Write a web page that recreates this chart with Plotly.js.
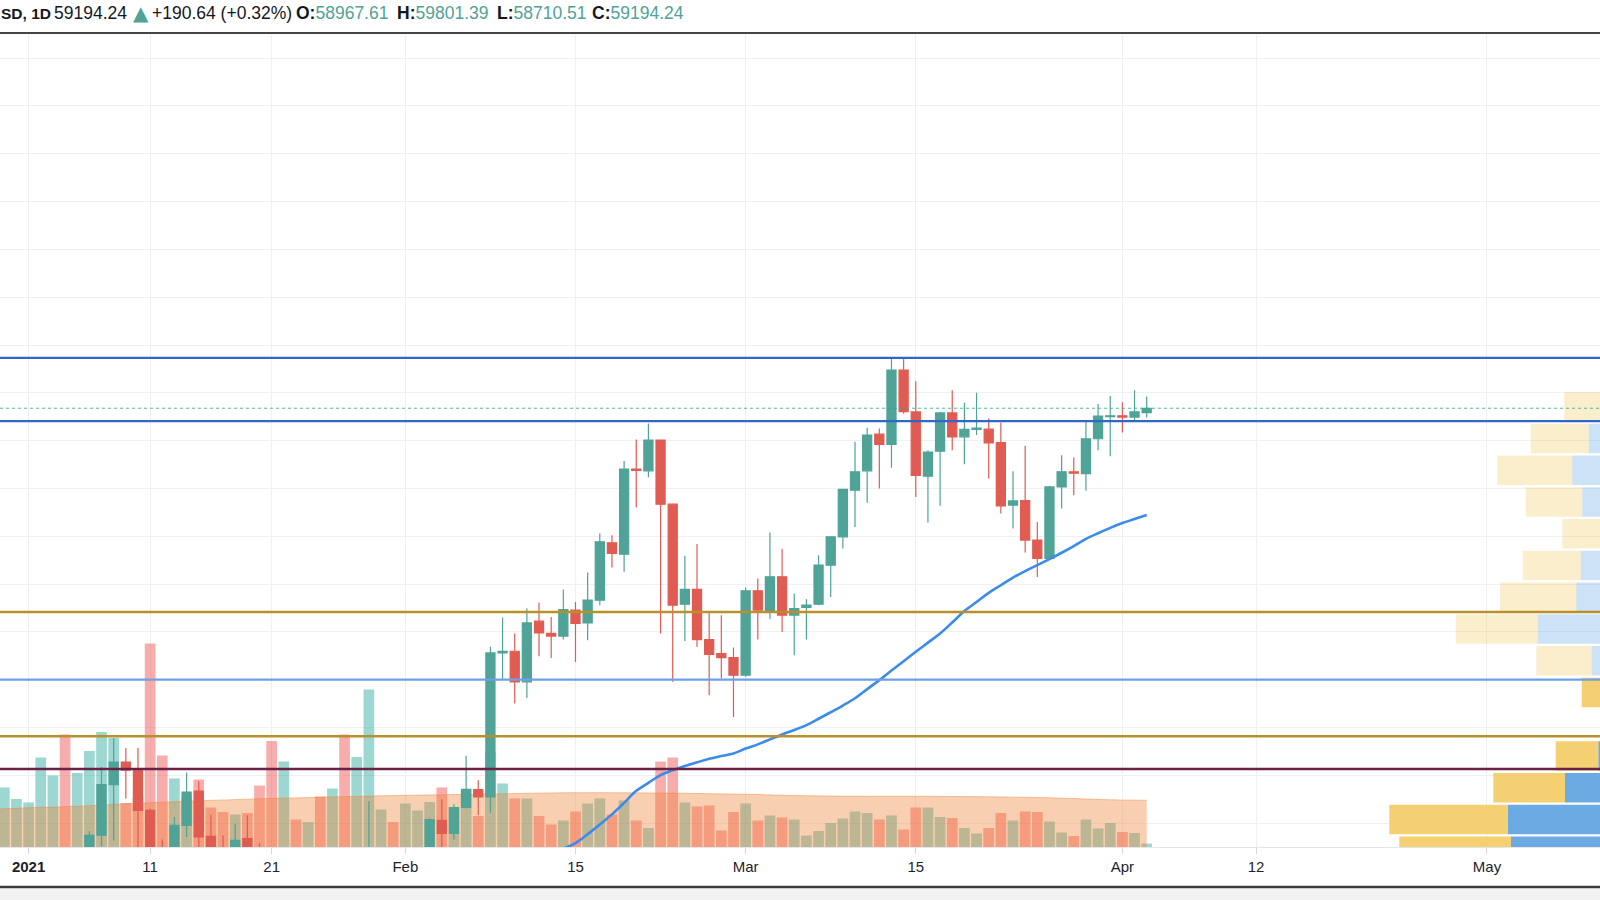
<!DOCTYPE html>
<html>
<head>
<meta charset="utf-8">
<script src="https://cdn.plot.ly/plotly-3.0.1.min.js"></script>
<style>html,body{margin:0;padding:0;background:#fff;}#chart{width:1600px;height:900px;}</style>
</head>
<body>
<div id="chart"></div>
<script>
// ---------- DATA ----------
const dates = [
 '2020-12-30','2020-12-31',
 '2021-01-01','2021-01-02','2021-01-03','2021-01-04','2021-01-05','2021-01-06','2021-01-07','2021-01-08','2021-01-09','2021-01-10',
 '2021-01-11','2021-01-12','2021-01-13','2021-01-14','2021-01-15','2021-01-16','2021-01-17','2021-01-18','2021-01-19','2021-01-20',
 '2021-01-21','2021-01-22','2021-01-23','2021-01-24','2021-01-25','2021-01-26','2021-01-27','2021-01-28','2021-01-29','2021-01-30','2021-01-31',
 '2021-02-01','2021-02-02','2021-02-03','2021-02-04','2021-02-05','2021-02-06','2021-02-07','2021-02-08','2021-02-09','2021-02-10',
 '2021-02-11','2021-02-12','2021-02-13','2021-02-14','2021-02-15','2021-02-16','2021-02-17','2021-02-18','2021-02-19','2021-02-20',
 '2021-02-21','2021-02-22','2021-02-23','2021-02-24','2021-02-25','2021-02-26','2021-02-27','2021-02-28',
 '2021-03-01','2021-03-02','2021-03-03','2021-03-04','2021-03-05','2021-03-06','2021-03-07','2021-03-08','2021-03-09','2021-03-10',
 '2021-03-11','2021-03-12','2021-03-13','2021-03-14','2021-03-15','2021-03-16','2021-03-17','2021-03-18','2021-03-19','2021-03-20',
 '2021-03-21','2021-03-22','2021-03-23','2021-03-24','2021-03-25','2021-03-26','2021-03-27','2021-03-28','2021-03-29','2021-03-30','2021-03-31',
 '2021-04-01','2021-04-02','2021-04-03'
];
const open = [
 27360,28880,
 28980,29370,32200,33000,32000,34000,36870,39520,40700,40270,
 38170,35500,33900,37390,39180,36810,36000,35800,36700,36000,
 35500,30800,33000,32100,32300,32250,32500,30400,33400,34300,34320,
 33100,33500,35500,37650,36960,38320,39260,38870,46400,46490,
 44890,48060,47420,47280,48640,47970,49160,52160,51560,56010,
 55920,57530,54180,48950,49720,47100,46370,46160,
 45240,49650,48550,50380,48380,48780,48950,50990,52470,54910,
 55920,57840,57300,61190,59000,55640,56950,58950,57700,58090,
 58100,57400,54130,54370,52300,51350,55080,55870,55780,57600,58750,
 58800,58730,58967.61
];
const high = [
 28990,29300,
 29600,33300,34800,33600,34500,37080,40440,41950,41430,41450,
 38250,36650,37820,40150,39690,37950,36870,37480,37910,36450,
 35600,33800,33400,32900,34800,32800,32500,33800,38650,34900,34400,
 34700,35900,37750,38750,38490,41020,39740,46720,48250,47420,
 48720,49020,48280,49720,49070,50610,52650,52560,56430,57560,
 58400,57560,54200,51480,52090,48500,48370,46690,
 49820,50290,52700,51830,49510,49210,51510,52500,54980,57440,
 58170,58140,61800,61800,60610,57000,59000,60140,59480,60000,
 58660,58450,55900,57230,53250,55140,56740,56620,58480,59410,59830,
 59510,60140,59801.39
];
const low = [
 27320,28000,
 28800,29000,32000,28100,29900,33300,36300,36600,38790,35100,
 30300,32500,32400,36780,34400,35400,33900,34800,35900,33400,
 30000,28800,31400,30900,31900,30800,29200,29900,31900,32900,32300,
 32300,33400,35400,36200,36640,38270,37910,38050,45030,43760,
 44050,46230,46140,47100,45930,47070,48900,50870,50640,54000,
 55580,47420,44890,47030,46720,44190,45060,43050,
 45150,47100,48170,47500,46280,47100,48900,49330,51860,52990,
 54250,55000,56080,58900,54560,53220,54090,57000,56270,57790,
 55520,53690,52910,51650,50370,51300,53950,54650,54880,57000,56690,
 57930,58570,58710.51
];
const close = [
 28880,28980,
 29370,32200,33000,32000,34000,36870,39520,40700,40270,38170,
 35500,33900,37390,39130,36780,36000,35800,36600,36000,35500,
 30800,33000,32100,32300,32250,32500,30400,33400,34300,34320,33100,
 33500,35500,37690,36960,38320,39260,38870,46400,46490,44890,
 47970,47450,47280,48670,47940,49160,52210,51600,56010,55950,
 57530,54180,48900,49730,47100,46320,46160,45240,
 49650,48640,50380,48380,48720,48900,50990,52470,54950,55870,
 57790,57300,61190,59020,55680,56900,58950,57700,58090,58150,
 57380,54090,54350,52300,51340,55080,55870,55800,57600,58780,58800,
 58730,59003.60,59194.24
];
// volume (thousand BTC)
const volume = [
 11.9,9.6,
 8.9,17.9,14.3,22.5,14.8,19.2,23.0,21.8,8.8,10.0,
 40.7,18.3,13.7,10.0,13.5,7.9,7.0,6.5,6.8,12.3,
 21.2,17.1,5.5,5.0,10.1,11.7,22.5,18.0,31.5,7.5,5.0,
 8.7,7.3,9.0,11.9,7.7,11.7,6.2,19.0,12.7,9.7,
 9.7,6.2,4.5,5.3,7.1,8.7,9.7,6.5,9.3,5.3,
 3.8,17.1,17.9,8.9,8.1,8.3,3.3,7.0,
 8.7,5.3,6.3,5.9,5.5,2.3,3.2,4.8,5.7,7.1,
 6.8,5.5,6.3,3.5,7.9,7.9,6.0,5.8,3.8,2.7,
 3.8,6.8,5.3,7.1,7.0,5.1,2.9,2.2,5.5,3.7,4.8,
 3.0,2.8,0.7
];
// volume moving average (read at these dates)
const volMADates = ['2020-12-29','2020-12-30','2021-01-01','2021-01-05','2021-01-10','2021-01-15','2021-01-20','2021-01-25',
 '2021-01-30','2021-02-04','2021-02-09','2021-02-14','2021-02-19','2021-02-24','2021-03-01','2021-03-06','2021-03-11',
 '2021-03-16','2021-03-21','2021-03-26','2021-03-31','2021-04-03'];
const volMA = [7.54,7.64,7.84,8.14,8.74,9.24,9.64,9.94,10.24,10.44,10.64,10.84,10.84,10.74,10.54,10.24,10.14,10.14,10.04,9.84,9.44,9.34];
// price moving average (blue line)
const maDates = [
 '2021-02-12','2021-02-13','2021-02-14','2021-02-15','2021-02-16','2021-02-17','2021-02-18','2021-02-19','2021-02-20',
 '2021-02-21','2021-02-22','2021-02-23','2021-02-24','2021-02-25','2021-02-26','2021-02-27','2021-02-28',
 '2021-03-01','2021-03-02','2021-03-03','2021-03-04','2021-03-05','2021-03-06','2021-03-07','2021-03-08','2021-03-09','2021-03-10',
 '2021-03-11','2021-03-12','2021-03-13','2021-03-14','2021-03-15','2021-03-16','2021-03-17','2021-03-18','2021-03-19','2021-03-20',
 '2021-03-21','2021-03-22','2021-03-23','2021-03-24','2021-03-25','2021-03-26','2021-03-27','2021-03-28','2021-03-29','2021-03-30','2021-03-31',
 '2021-04-01','2021-04-02','2021-04-03'];
const maValues = [
 35600,35900,36170,36460,36920,37430,37960,38560,39190,
 39610,40010,40270,40490,40680,40870,41010,41140,
 41400,41620,41880,42140,42370,42630,42960,43300,43650,44030,
 44510,44980,45480,45970,46460,46940,47420,47990,48590,49060,
 49540,49940,50340,50680,50990,51310,51640,51990,52360,52660,52940,
 53190,53400,53610];
// horizontal levels drawn on chart
const levels = [61830, 58520, 48546, 45010, 42045, 40335];
// volume profile (price bin centres, up / down volume, value-area flag)
const profilePrice = [60935,59275,57615,55955,54295,52635,50975,49315,47655,45995,44335,42675,41015,39355,37695,36035];
const profileUp    = [8,28,51.3,67.7,57.7,26,59.3,63.7,102.3,48.3,25,10,41.7,75,132.3,129];
const profileDown  = [10,47.7,58,75,56.6,51.7,58,76.3,82,55.4,33.3,15,42.6,71.7,118.4,111.7];
const profileInVA  = [false,false,false,false,false,false,false,false,false,false,true,true,true,true,true,true];
// x-axis ticks
const tickDates = ['2021-01-01','2021-01-11','2021-01-21','2021-02-01','2021-02-15','2021-03-01','2021-03-15','2021-04-01','2021-04-12','2021-05-01'];
const tickText  = ['<b>2021</b>','11','21','Feb','15','Mar','15','Apr','12','May'];

// ---------- DRAW ----------
const UP = '#4fa397', DN = '#e05c52';
const n = close.length;
const volColors = close.map((c,i)=> c>=open[i] ? 'rgba(38,166,154,0.45)' : 'rgba(239,83,80,0.48)');

const traces = [
 {type:'bar', x:dates, y:volume, xaxis:'x', yaxis:'y', marker:{color:volColors, line:{width:0}}, hoverinfo:'skip'},
 {type:'scatter', mode:'lines', x:volMADates, y:volMA, xaxis:'x', yaxis:'y', fill:'tozeroy',
  fillcolor:'rgba(240,130,50,0.38)', line:{color:'rgba(240,130,50,0.45)', width:1, shape:'spline'}, hoverinfo:'skip'},
 {type:'candlestick', x:dates, open:open, high:high, low:low, close:close, xaxis:'x', yaxis:'y2',
  increasing:{line:{color:UP, width:1.2}, fillcolor:UP}, decreasing:{line:{color:DN, width:1.2}, fillcolor:DN},
  whiskerwidth:0, hoverinfo:'skip'},
 {type:'scatter', mode:'lines', x:maDates, y:maValues, xaxis:'x', yaxis:'y2',
  line:{color:'#3b8beb', width:2.6, shape:'spline'}, hoverinfo:'skip'},
];
const step = profilePrice[0]-profilePrice[1];
traces.push({type:'bar', orientation:'h', xaxis:'x2', yaxis:'y2', y:profilePrice, x:profileUp, base:0, width:step*0.93,
  marker:{color:profileInVA.map(v=>v?'rgba(100,165,225,0.95)':'rgba(108,172,228,0.35)'), line:{width:0}}, hoverinfo:'skip'});
traces.push({type:'bar', orientation:'h', xaxis:'x2', yaxis:'y2', y:profilePrice, x:profileDown, base:profileUp, width:step*0.93,
  marker:{color:profileInVA.map(v=>v?'rgba(242,200,90,0.85)':'rgba(242,200,90,0.3)'), line:{width:0}}, hoverinfo:'skip'});

const levelStyles = [
 {color:'#2f66c8', width:2.2},{color:'#2f66c8', width:2.2},{color:'#b8902c', width:2.5},
 {color:'#6f9fe6', width:2.2},{color:'#b8902c', width:2.5},{color:'#6b2145', width:2.6}
];
const shapes = levels.map((p,i)=>({type:'line', xref:'paper', yref:'y2', x0:0, x1:1, y0:p, y1:p, layer:'above',
  line:{color:levelStyles[i].color, width:levelStyles[i].width}}));
const last = close[n-1];
shapes.push({type:'line', xref:'paper', yref:'y2', x0:0, x1:1, y0:last, y1:last, layer:'above',
  line:{color:'rgba(38,166,154,0.8)', width:1, dash:'dot'}});
// frame lines
const PH = 812.7;
shapes.push({type:'line', xref:'paper', yref:'paper', x0:0, x1:1, y0:1+1/PH, y1:1+1/PH, line:{color:'#454545', width:2}});
shapes.push({type:'rect', xref:'paper', yref:'paper', x0:0, x1:1, y0:-(41.5/PH), y1:-(60/PH), fillcolor:'#f2f2f2', line:{width:0}});
shapes.push({type:'line', xref:'paper', yref:'paper', x0:0, x1:1, y0:-(40/PH), y1:-(40/PH), line:{color:'#3c3c3c', width:2.5}});

// header
const prev = close[n-2];
const chg = last - prev;
const pct = chg/prev*100;
const hy = 1 + (34-13.5)/PH;
const F = 'Liberation Sans, Arial, sans-serif';
const hdr = [
 {x:0, text:'<b>SD, 1D</b>', color:'#131722', size:15.5},
 {x:53, text:last.toFixed(2), color:'#131722'},
 {x:132, text:'▲', color:'#4fa397', size:20, family:'DejaVu Sans, sans-serif'},
 {x:151, text:(chg>=0?'+':'')+chg.toFixed(2)+' ('+(chg>=0?'+':'')+pct.toFixed(2)+'%)', color:'#131722'},
 {x:295, text:'<b>O:</b><span style="color:#4fa397">'+open[n-1].toFixed(2)+'</span>', color:'#131722'},
 {x:396, text:'<b>H:</b><span style="color:#4fa397">'+high[n-1].toFixed(2)+'</span>', color:'#131722'},
 {x:496, text:'<b>L:</b><span style="color:#4fa397">'+low[n-1].toFixed(2)+'</span>', color:'#131722'},
 {x:591, text:'<b>C:</b><span style="color:#4fa397">'+close[n-1].toFixed(2)+'</span>', color:'#131722'},
];
const annotations = hdr.map(h=>({xref:'paper', yref:'paper', x:h.x/1600, y:hy, xanchor:'left', yanchor:'middle',
  text:h.text, showarrow:false, borderpad:0, font:{family:h.family||F, size:h.size||17.5, color:h.color}}));

const layout = {
 width:1600, height:900,
 margin:{l:0, r:0, t:34, b:53.3, pad:0},
 paper_bgcolor:'#ffffff', plot_bgcolor:'#ffffff',
 showlegend:false, barmode:'overlay', bargap:0.12, boxgap:0.25, boxgroupgap:0,
 xaxis:{type:'date', range:['2020-12-29 15:31','2021-05-10 07:12'], tickmode:'array', tickvals:tickDates, ticktext:tickText,
   showgrid:true, gridcolor:'#eef0f4', gridwidth:1, ticks:'outside', ticklen:6, tickcolor:'#d3d7de',
   showline:true, linecolor:'#e3e6eb', linewidth:1, zeroline:false, rangeslider:{visible:false},
   tickfont:{family:F, size:15, color:'#1e222d'}, ticklabelstandoff:0},
 yaxis:{range:[0,162.54], visible:false, showgrid:false, zeroline:false},
 yaxis2:{overlaying:'y', range:[36255,78760], tick0:0, dtick:2500, showgrid:true, gridcolor:'#eef0f4', gridwidth:1,
   showticklabels:false, ticks:'', zeroline:false, showline:false},
 xaxis2:{overlaying:'x', range:[1640,40], visible:false, showgrid:false, zeroline:false},
 shapes:shapes, annotations:annotations
};
Plotly.newPlot('chart', traces, layout, {displayModeBar:false, staticPlot:true});
</script>
</body>
</html>
